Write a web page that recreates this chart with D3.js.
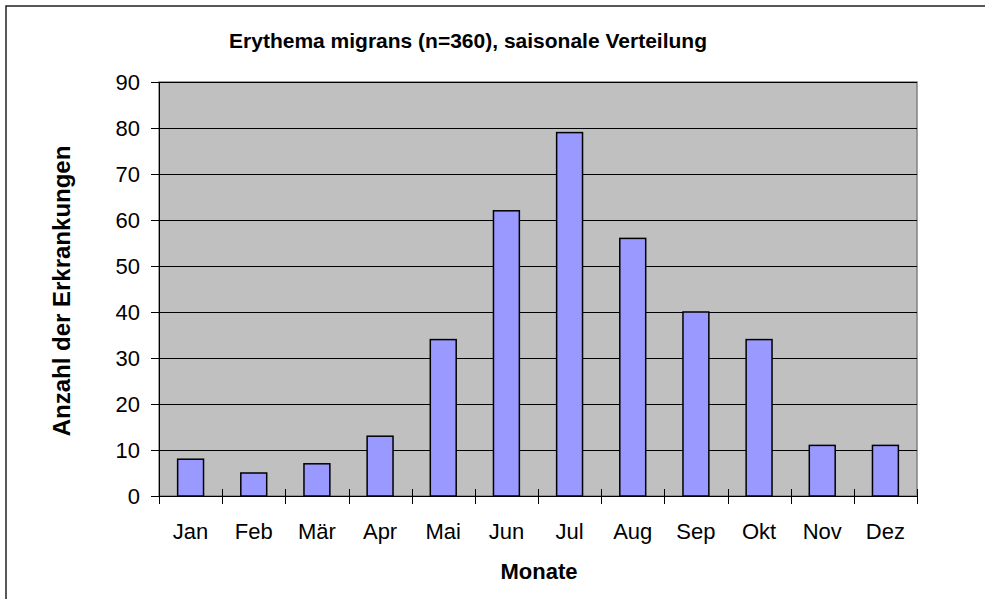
<!DOCTYPE html>
<meta charset="utf-8">
<style>
body{ margin:0; background:#fff; }
svg text{ font-family:Arial, "Liberation Sans", sans-serif; fill:#000; }
.grid line{ stroke:#000; stroke-width:1px; shape-rendering:crispEdges; }
.bar{ fill:#9999ff; stroke:#000; stroke-width:1.5px; }
.axis path, .axis line{ stroke:#000; stroke-width:1px; shape-rendering:crispEdges; }
.tick text{ font-size:22px; }
</style>
<body>
<script src="https://cdn.jsdelivr.net/npm/d3@7"></script>
<script>
var months = ['Jan','Feb','Mär','Apr','Mai','Jun','Jul','Aug','Sep','Okt','Nov','Dez'];
var cases = [8, 5, 7, 13, 34, 62, 79, 56, 40, 34, 11, 11];
var yTicks = [0, 10, 20, 30, 40, 50, 60, 70, 80, 90];

var W = 985, H = 599;
var plot = {left:159, top:82, right:917, bottom:496};

var svg = d3.select('body').append('svg').attr('width', W).attr('height', H);

// outer frame (runs off the right and bottom edge)
svg.append('rect')
    .attr('x', 6).attr('y', 6).attr('width', 1100).attr('height', 1000)
    .attr('fill', 'none').attr('stroke', '#222').attr('stroke-width', 1.5);

var x = d3.scaleBand().domain(months)
    .range([plot.left, plot.right])
    .paddingInner(0.59).paddingOuter(0.295);
var y = d3.scaleLinear().domain([0, 90]).range([plot.bottom, plot.top]);

// plot area
svg.append('rect')
    .attr('x', plot.left).attr('y', plot.top)
    .attr('width', plot.right - plot.left).attr('height', plot.bottom - plot.top)
    .attr('fill', '#c0c0c0').attr('stroke', '#808080').attr('stroke-width', 1.5);

svg.append('g').attr('class', 'grid')
    .selectAll('line').data(yTicks.slice(1)).enter()
    .append('line')
    .attr('x1', plot.left).attr('x2', plot.right)
    .attr('y1', function(d){ return Math.round(y(d)) + 0.5; })
    .attr('y2', function(d){ return Math.round(y(d)) + 0.5; });

svg.append('g').selectAll('rect').data(cases).enter()
    .append('rect')
    .attr('class', 'bar')
    .attr('x', function(d, i){ return x(months[i]); })
    .attr('y', function(d){ return y(d); })
    .attr('width', x.bandwidth())
    .attr('height', function(d){ return y(0) - y(d); });

// y axis
var yAxis = svg.append('g').attr('class', 'axis')
    .attr('transform', 'translate(' + plot.left + ',0)')
    .call(d3.axisLeft(y).tickValues(yTicks).tickSize(8).tickPadding(11).tickSizeOuter(0));
yAxis.selectAll('text').attr('dy', '0.36em');

// x axis: ticks between categories, crossing the axis
var xg = svg.append('g').attr('class', 'axis');
xg.append('line')
    .attr('x1', plot.left - 8).attr('x2', plot.right)
    .attr('y1', plot.bottom + 0.5).attr('y2', plot.bottom + 0.5)
    .attr('stroke', '#000');
var step = x.step();
xg.selectAll('line.sep').data(d3.range(months.length + 1)).enter()
    .append('line').attr('class', 'sep')
    .attr('x1', function(i){ return Math.round(plot.left + i * step) + 0.5; })
    .attr('x2', function(i){ return Math.round(plot.left + i * step) + 0.5; })
    .attr('y1', plot.bottom - 7).attr('y2', plot.bottom + 8)
    .attr('stroke', '#000');
xg.selectAll('text').data(months).enter()
    .append('text')
    .attr('x', function(d){ return x(d) + x.bandwidth() / 2; })
    .attr('y', 539)
    .attr('text-anchor', 'middle')
    .style('font-size', '22px')
    .text(function(d){ return d; });

// titles
svg.append('text')
    .attr('x', 468).attr('y', 48)
    .attr('text-anchor', 'middle')
    .style('font-size', '21px').style('font-weight', 'bold')
    .text('Erythema migrans (n=360), saisonale Verteilung');

svg.append('text')
    .attr('transform', 'translate(70,291) rotate(-90)')
    .attr('text-anchor', 'middle')
    .style('font-size', '24px').style('font-weight', 'bold')
    .text('Anzahl der Erkrankungen');

svg.append('text')
    .attr('x', 539).attr('y', 579)
    .attr('text-anchor', 'middle')
    .style('font-size', '22px').style('font-weight', 'bold')
    .text('Monate');
</script>
